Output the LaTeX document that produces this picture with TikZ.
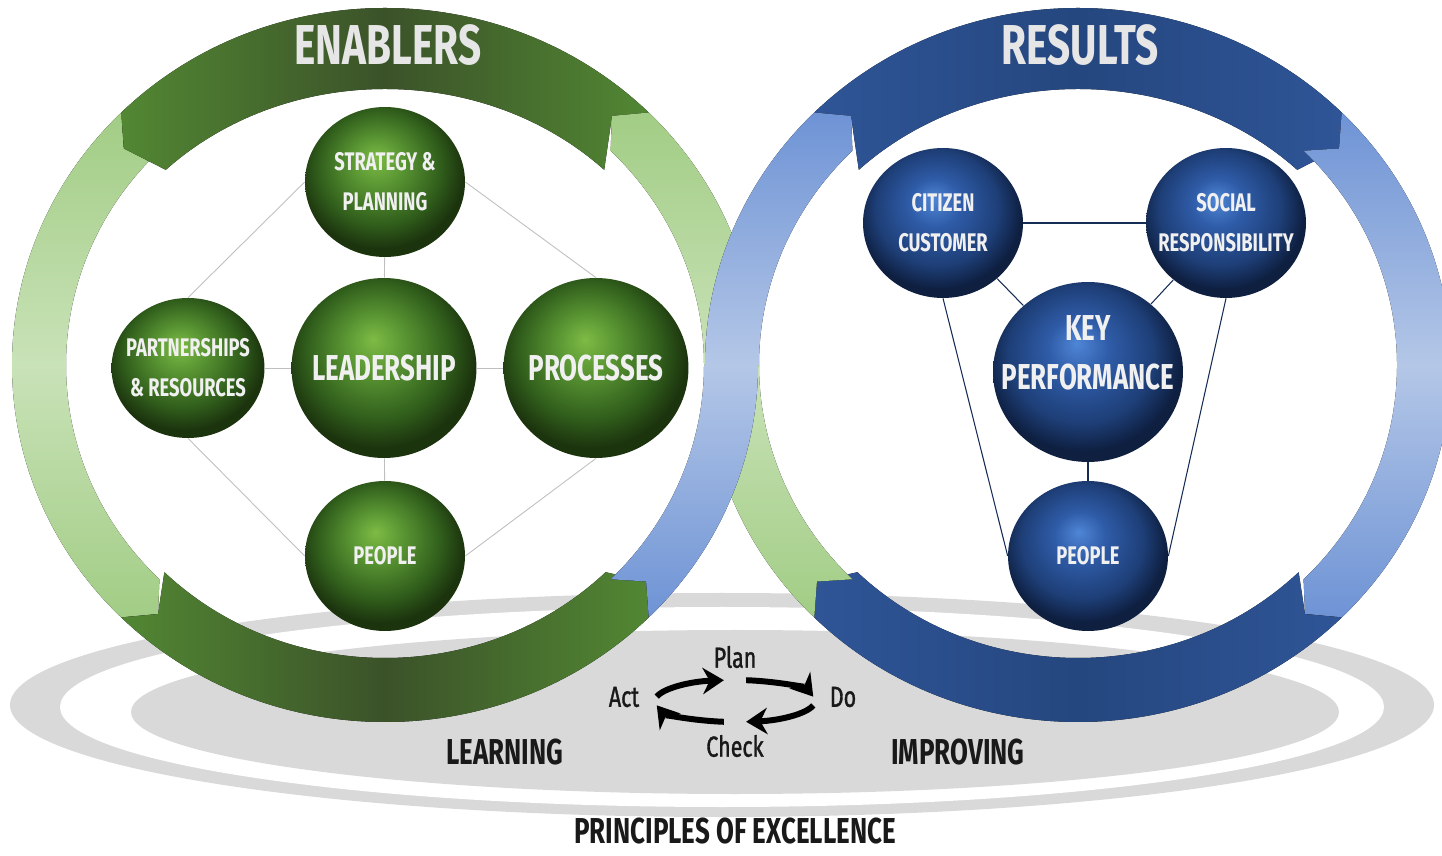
\documentclass[tikz,border=0pt]{standalone}
\usepackage{fontspec}
\newfontfamily\condfont{Fira Sans}[FakeStretch=0.72]
\newfontfamily\condmedium{Fira Sans}[FakeStretch=0.74, FakeBold=1.2]
\usetikzlibrary{shapes.geometric,calc,arrows.meta}

\definecolor{ringgreen}{HTML}{528733}
\definecolor{ringgreendk}{HTML}{3B5229}
\definecolor{lightgreen}{HTML}{A2CD85}
\definecolor{lightgreenhi}{HTML}{C9E2B8}
\definecolor{ringblue}{HTML}{2F5597}
\definecolor{ringbluedk}{HTML}{25477F}
\definecolor{lightblue}{HTML}{6E93D5}
\definecolor{lightbluehi}{HTML}{B4C7E7}
\definecolor{platform}{HTML}{D9D9D9}
\definecolor{ballgreenhi}{HTML}{7DBB45}
\definecolor{ballgreenmid}{HTML}{5A9633}
\definecolor{ballgreenlo}{HTML}{315F1C}
\definecolor{ballgreendk}{HTML}{1C340E}
\definecolor{ballbluehi}{HTML}{4F86D6}
\definecolor{ballbluemid}{HTML}{2F5CA8}
\definecolor{ballbluelo}{HTML}{1E3F78}
\definecolor{ballbluedk}{HTML}{0E1F40}
\definecolor{titlegray}{HTML}{E6E6E6}

\pgfdeclareradialshading{greenball}{\pgfpoint{-3bp}{8bp}}{%
  color(0bp)=(ballgreenhi); color(8bp)=(ballgreenmid); color(19bp)=(ballgreenlo);
  color(26bp)=(ballgreendk); color(50bp)=(ballgreendk)}
\pgfdeclareradialshading{blueball}{\pgfpoint{-3bp}{8bp}}{%
  color(0bp)=(ballbluehi); color(8bp)=(ballbluemid); color(19bp)=(ballbluelo);
  color(26bp)=(ballbluedk); color(50bp)=(ballbluedk)}

% one piece of a ring: style, centre, from, to, inner radii, tail tip, head tip
\newcommand{\ringpart}[8]{%
  \fill[#1] ($(#2)+(#3:373 and 357)$)
    arc[start angle=#3, end angle=#4, x radius=373, y radius=357]
    -- ($(#2)+(#8:346 and 330)$) -- ($(#2)+(#4:#5 and #6)$)
    arc[start angle=#4, end angle=#3, x radius=#5, y radius=#6]
    -- ($(#2)+(#7:346 and 330)$) -- cycle;}

\tikzset{
  darkgreenband/.style={left color=ringgreen, right color=ringgreen, middle color=ringgreendk},
  sidegreenband/.style={top color=lightgreen, bottom color=lightgreen, middle color=lightgreenhi},
  darkblueband/.style={left color=ringblue, right color=ringblue, middle color=ringbluedk},
  sideblueband/.style={top color=lightblue, bottom color=lightblue, middle color=lightbluehi},
  greenball/.style={ellipse, shading=greenball, inner sep=0pt, align=center, text=white!94!black},
  blueball/.style={ellipse, shading=blueball, inner sep=0pt, align=center, text=white!94!black},
  minorball/.style={minimum width=3.2cm, minimum height=3cm, inner xsep=-12pt,
    font=\condfont\bfseries\fontsize{14.5}{22.7}\selectfont},
  majorball/.style={minimum width=3.7cm, minimum height=3.6cm, inner xsep=-18pt,
    font=\condfont\bfseries\fontsize{20.5}{28}\selectfont},
  bandtitle/.style={text=titlegray, font=\condfont\bfseries\fontsize{32}{32}\selectfont},
  cyclelabel/.style={text=black!90, font=\condmedium\fontsize{16.5}{16.5}\selectfont},
  stagelabel/.style={text=black!90, font=\condfont\bfseries\fontsize{20.5}{20.5}\selectfont},
  greenlink/.style={draw=black!25, line width=0.5pt},
  bluelink/.style={draw=ballbluelo!70!black, line width=0.6pt},
  pdcaarrow/.style={draw=black, line width=3.4pt, -{Stealth[length=12pt,width=15pt]}},
}

\begin{document}
\begin{tikzpicture}[x=0.02cm, y=0.02cm]
  \useasboundingbox (0,0) rectangle (1442,855);
  \coordinate (gc) at (385,490);
  \coordinate (bc) at (1078,490);

  % platform
  \fill[platform] (722,150) ellipse [x radius=712, y radius=112];
  \fill[white] (722,148) ellipse [x radius=662, y radius=100];
  \fill[platform] (735,143) ellipse [x radius=604, y radius=82];

  % enablers ring
  \ringpart{sidegreenband}{gc}{135}{225}{319}{303}{139}{229}
  \ringpart{darkgreenband}{gc}{45}{135}{310}{276}{49}{139}
  \ringpart{darkgreenband}{gc}{225}{315}{312}{293}{229}{319}
  \ringpart{top color=lightgreen, bottom color=lightgreenhi}{gc}{0}{45}{319}{303}{0}{49}

  % results ring
  \ringpart{darkblueband}{bc}{135}{45}{310}{276}{131}{41}
  \ringpart{sideblueband}{bc}{45}{-45}{319}{303}{41}{-49}
  \ringpart{darkblueband}{bc}{-45}{-135}{312}{293}{-49}{-139}
  \ringpart{top color=lightgreenhi, bottom color=lightgreen}{bc}{-135}{-180}{319}{303}{-139}{-180}

  % crossing
  \ringpart{top color=lightbluehi, bottom color=lightblue}{gc}{-45}{0}{319}{303}{-41}{0}
  \ringpart{top color=lightblue, bottom color=lightbluehi}{bc}{180}{135}{319}{303}{180}{131}

  \node[bandtitle] (enablers) at (388,810) {ENABLERS};
  \node[bandtitle] (results) at (1080,810) {RESULTS};

  % enablers
  \node[greenball, minorball] (strat) at (385,673) {STRATEGY \&\\PLANNING};
  \node[greenball, minorball, minimum width=3.06cm, minimum height=2.8cm] (part) at (188,487) {PARTNERSHIPS\\\& RESOURCES};
  \node[greenball, majorball] (lead) at (384,487) {LEADERSHIP};
  \node[greenball, majorball] (proc) at (596,487) {PROCESSES};
  \node[greenball, minorball] (peopleg) at (385,299) {PEOPLE};

  \draw[greenlink] (strat) -- (lead);
  \draw[greenlink] (lead) -- (peopleg);
  \draw[greenlink] (part) -- (lead);
  \draw[greenlink] (lead) -- (proc);
  \draw[greenlink] (strat.west) -- (part.north);
  \draw[greenlink] (strat.east) -- (proc.north);
  \draw[greenlink] (part.south) -- (peopleg.west);
  \draw[greenlink] (proc.south) -- (peopleg.east);

  % results
  \node[blueball, minorball] (citizen) at (943,632) {CITIZEN\\CUSTOMER};
  \node[blueball, minorball] (social) at (1226,632) {SOCIAL\\RESPONSIBILITY};
  \node[blueball, majorball, minimum width=3.8cm, text depth=22pt] (key) at (1088,483) {KEY\\PERFORMANCE};
  \node[blueball, minorball] (peopleb) at (1088,299) {PEOPLE};

  \draw[bluelink] (citizen) -- (social);
  \draw[bluelink] (citizen) -- (key);
  \draw[bluelink] (social) -- (key);
  \draw[bluelink] (key) -- (peopleb);
  \draw[bluelink] (citizen.south) -- (peopleb.west);
  \draw[bluelink] (social.south) -- (peopleb.east);

  % plan do check act
  \node[cyclelabel] (plan) at (735,198) {Plan};
  \node[cyclelabel] (act) at (624,158) {Act};
  \node[cyclelabel] (do) at (843,158) {Do};
  \node[cyclelabel] (check) at (735,109) {Check};
  \coordinate (pdca) at (735,154);
  \draw[pdcaarrow] ($(pdca)+(168:80 and 21)$) arc[start angle=168, end angle=98, x radius=80, y radius=21];
  \draw[pdcaarrow] ($(pdca)+(82:80 and 21)$) arc[start angle=82, end angle=12, x radius=80, y radius=21];
  \draw[pdcaarrow] ($(pdca)+(-12:80 and 21)$) arc[start angle=-12, end angle=-82, x radius=80, y radius=21];
  \draw[pdcaarrow] ($(pdca)+(-98:80 and 21)$) arc[start angle=-98, end angle=-168, x radius=80, y radius=21];

  \node[stagelabel] (learning) at (505,103) {LEARNING};
  \node[stagelabel] (improving) at (958,103) {IMPROVING};
  \node[stagelabel] (principles) at (735,24) {PRINCIPLES OF EXCELLENCE};
\end{tikzpicture}
\end{document}
